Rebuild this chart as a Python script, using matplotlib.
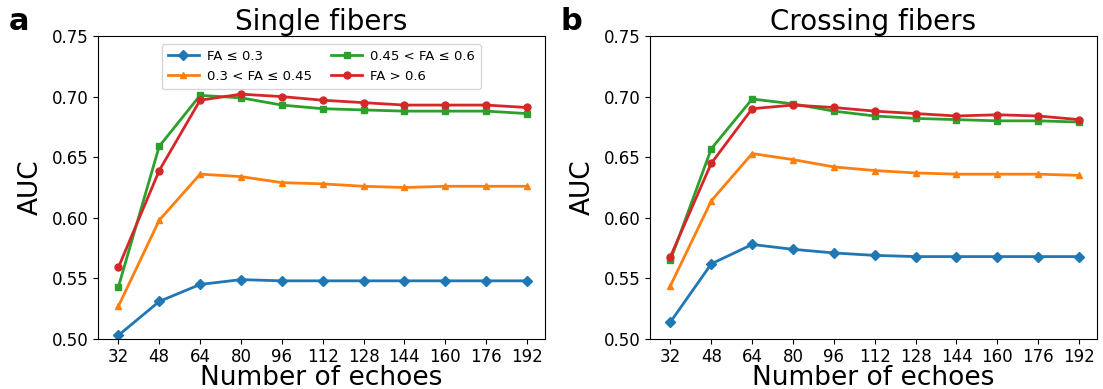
import matplotlib
matplotlib.use("Agg")
import matplotlib.pyplot as plt

# echoes on the x axis
echoes = [32, 48, 64, 80, 96, 112, 128, 144, 160, 176, 192]

labels = ["FA ≤ 0.3", "0.3 < FA ≤ 0.45", "0.45 < FA ≤ 0.6", "FA > 0.6"]

# single fibers AUC
single_low = [0.503, 0.531, 0.545, 0.549, 0.548, 0.548, 0.548, 0.548, 0.548, 0.548, 0.548]
single_midlow = [0.527, 0.598, 0.636, 0.634, 0.629, 0.628, 0.626, 0.625, 0.626, 0.626, 0.626]
single_midhigh = [0.543, 0.659, 0.701, 0.699, 0.693, 0.690, 0.689, 0.688, 0.688, 0.688, 0.686]
single_high = [0.559, 0.639, 0.697, 0.702, 0.700, 0.697, 0.695, 0.693, 0.693, 0.693, 0.691]

# crossing fibers AUC
cross_low = [0.514, 0.562, 0.578, 0.574, 0.571, 0.569, 0.568, 0.568, 0.568, 0.568, 0.568]
cross_midlow = [0.544, 0.614, 0.653, 0.648, 0.642, 0.639, 0.637, 0.636, 0.636, 0.636, 0.635]
cross_midhigh = [0.565, 0.657, 0.698, 0.694, 0.688, 0.684, 0.682, 0.681, 0.680, 0.680, 0.679]
cross_high = [0.568, 0.645, 0.690, 0.693, 0.691, 0.688, 0.686, 0.684, 0.685, 0.684, 0.681]

colors = ["#1f77b4", "#ff7f0e", "#2ca02c", "#d62728"]
markers = ["D", "^", "s", "o"]

fig = plt.figure(figsize=(11.03, 3.89), dpi=100)
ax1 = fig.add_axes([0.0888, 0.1285, 0.4052, 0.779])
ax2 = fig.add_axes([0.5893, 0.1285, 0.4052, 0.779])

panels = [
    (ax1, [single_low, single_midlow, single_midhigh, single_high], "Single fibers", "a"),
    (ax2, [cross_low, cross_midlow, cross_midhigh, cross_high], "Crossing fibers", "b"),
]

for ax, series, title, letter in panels:
    for vals, c, m, lab in zip(series, colors, markers, labels):
        ax.plot(echoes, vals, color=c, marker=m, markersize=5, linewidth=2, label=lab)
    ax.set_xticks(echoes)
    ax.set_ylim(0.5, 0.75)
    ax.set_xlim(24, 199)
    ax.set_yticks([0.50, 0.55, 0.60, 0.65, 0.70, 0.75])
    ax.set_yticklabels(["0.50", "0.55", "0.60", "0.65", "0.70", "0.75"])
    ax.tick_params(labelsize=12, pad=3)
    ax.set_xlabel("Number of echoes", fontsize=19, labelpad=-1)
    ax.set_ylabel("AUC", fontsize=19, labelpad=6)
    ax.set_title(title, fontsize=20, pad=4)
    ax.text(-0.2, 1.02, letter, transform=ax.transAxes, fontsize=22, fontweight="bold")

ax1.legend(loc="upper center", ncol=2, fontsize=9.5, bbox_to_anchor=(0.5, 0.995),
           columnspacing=1.4, handlelength=2.4, handletextpad=0.6,
           labelspacing=0.5, borderpad=0.45)

fig.savefig("out.png", dpi=100)
